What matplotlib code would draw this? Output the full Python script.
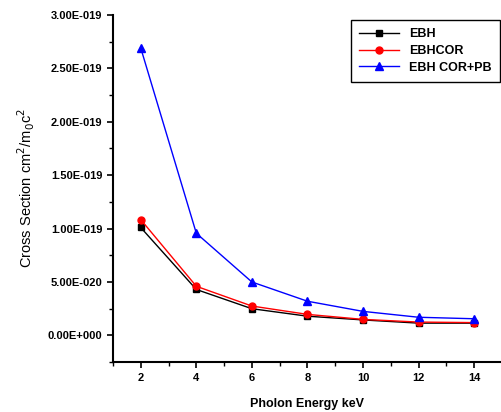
import matplotlib
matplotlib.use("Agg")
import matplotlib.pyplot as plt
from matplotlib.ticker import MultipleLocator

energy = [2, 4, 6, 8, 10, 12, 14]
ebh = [1.01e-19, 0.43e-19, 0.25e-19, 0.18e-19, 0.145e-19, 0.115e-19, 0.115e-19]
ebhcor = [1.084e-19, 0.46e-19, 0.275e-19, 0.197e-19, 0.15e-19, 0.125e-19, 0.12e-19]
ebhcor_pb = [2.69e-19, 0.956e-19, 0.50e-19, 0.32e-19, 0.225e-19, 0.17e-19, 0.156e-19]
labels = ["EBH", "EBHCOR", "EBH COR+PB"]
ytick_vals = [0.0, 0.5e-19, 1.0e-19, 1.5e-19, 2.0e-19, 2.5e-19, 3.0e-19]
ytick_labels = ["0.00E+000", "5.00E-020", "1.00E-019", "1.50E-019", "2.00E-019", "2.50E-019", "3.00E-019"]

plt.rcParams['font.family'] = ['Liberation Sans', 'DejaVu Sans']

fig = plt.figure(figsize=(5.02, 4.12), dpi=100)
ax = fig.add_axes([0.225, 0.121, 0.775, 0.843])

ax.plot(energy, ebh, color='black', marker='s', markersize=5, lw=1, label=labels[0])
ax.plot(energy, ebhcor, color='red', marker='o', markersize=5, lw=1, label=labels[1])
ax.plot(energy, ebhcor_pb, color='blue', marker='^', markersize=6, lw=1, label=labels[2])

ax.set_xlim(1, 15)
ax.set_ylim(-2.5e-20, 3.0e-19)
ax.set_xticks(energy)
ax.xaxis.set_minor_locator(MultipleLocator(1))
ax.set_yticks(ytick_vals)
ax.set_yticklabels(ytick_labels)
ax.yaxis.set_minor_locator(MultipleLocator(0.25e-19))

for s in ['top', 'right']:
    ax.spines[s].set_visible(False)
for s in ['left', 'bottom']:
    ax.spines[s].set_linewidth(1.5)
ax.tick_params(which='major', direction='out', length=4, width=1.2, labelsize=8)
ax.tick_params(which='minor', direction='out', length=3, width=1.0)
for lbl in ax.get_xticklabels() + ax.get_yticklabels():
    lbl.set_fontweight('bold')

ax.set_xlabel("Pholon Energy keV", fontsize=9, fontweight='bold', labelpad=11)
ax.set_ylabel("Cross Section cm$^2$/m$_0$c$^2$", fontsize=10.5, labelpad=8)

leg = ax.legend(loc='upper right', bbox_to_anchor=(0.995, 0.985), borderaxespad=0,
                fancybox=False, edgecolor='black', framealpha=1, handlelength=3.2,
                borderpad=0.65, labelspacing=0.38,
                prop={'weight': 'bold', 'size': 9})
leg.get_frame().set_linewidth(1.0)

fig.savefig("out.png", dpi=100)
